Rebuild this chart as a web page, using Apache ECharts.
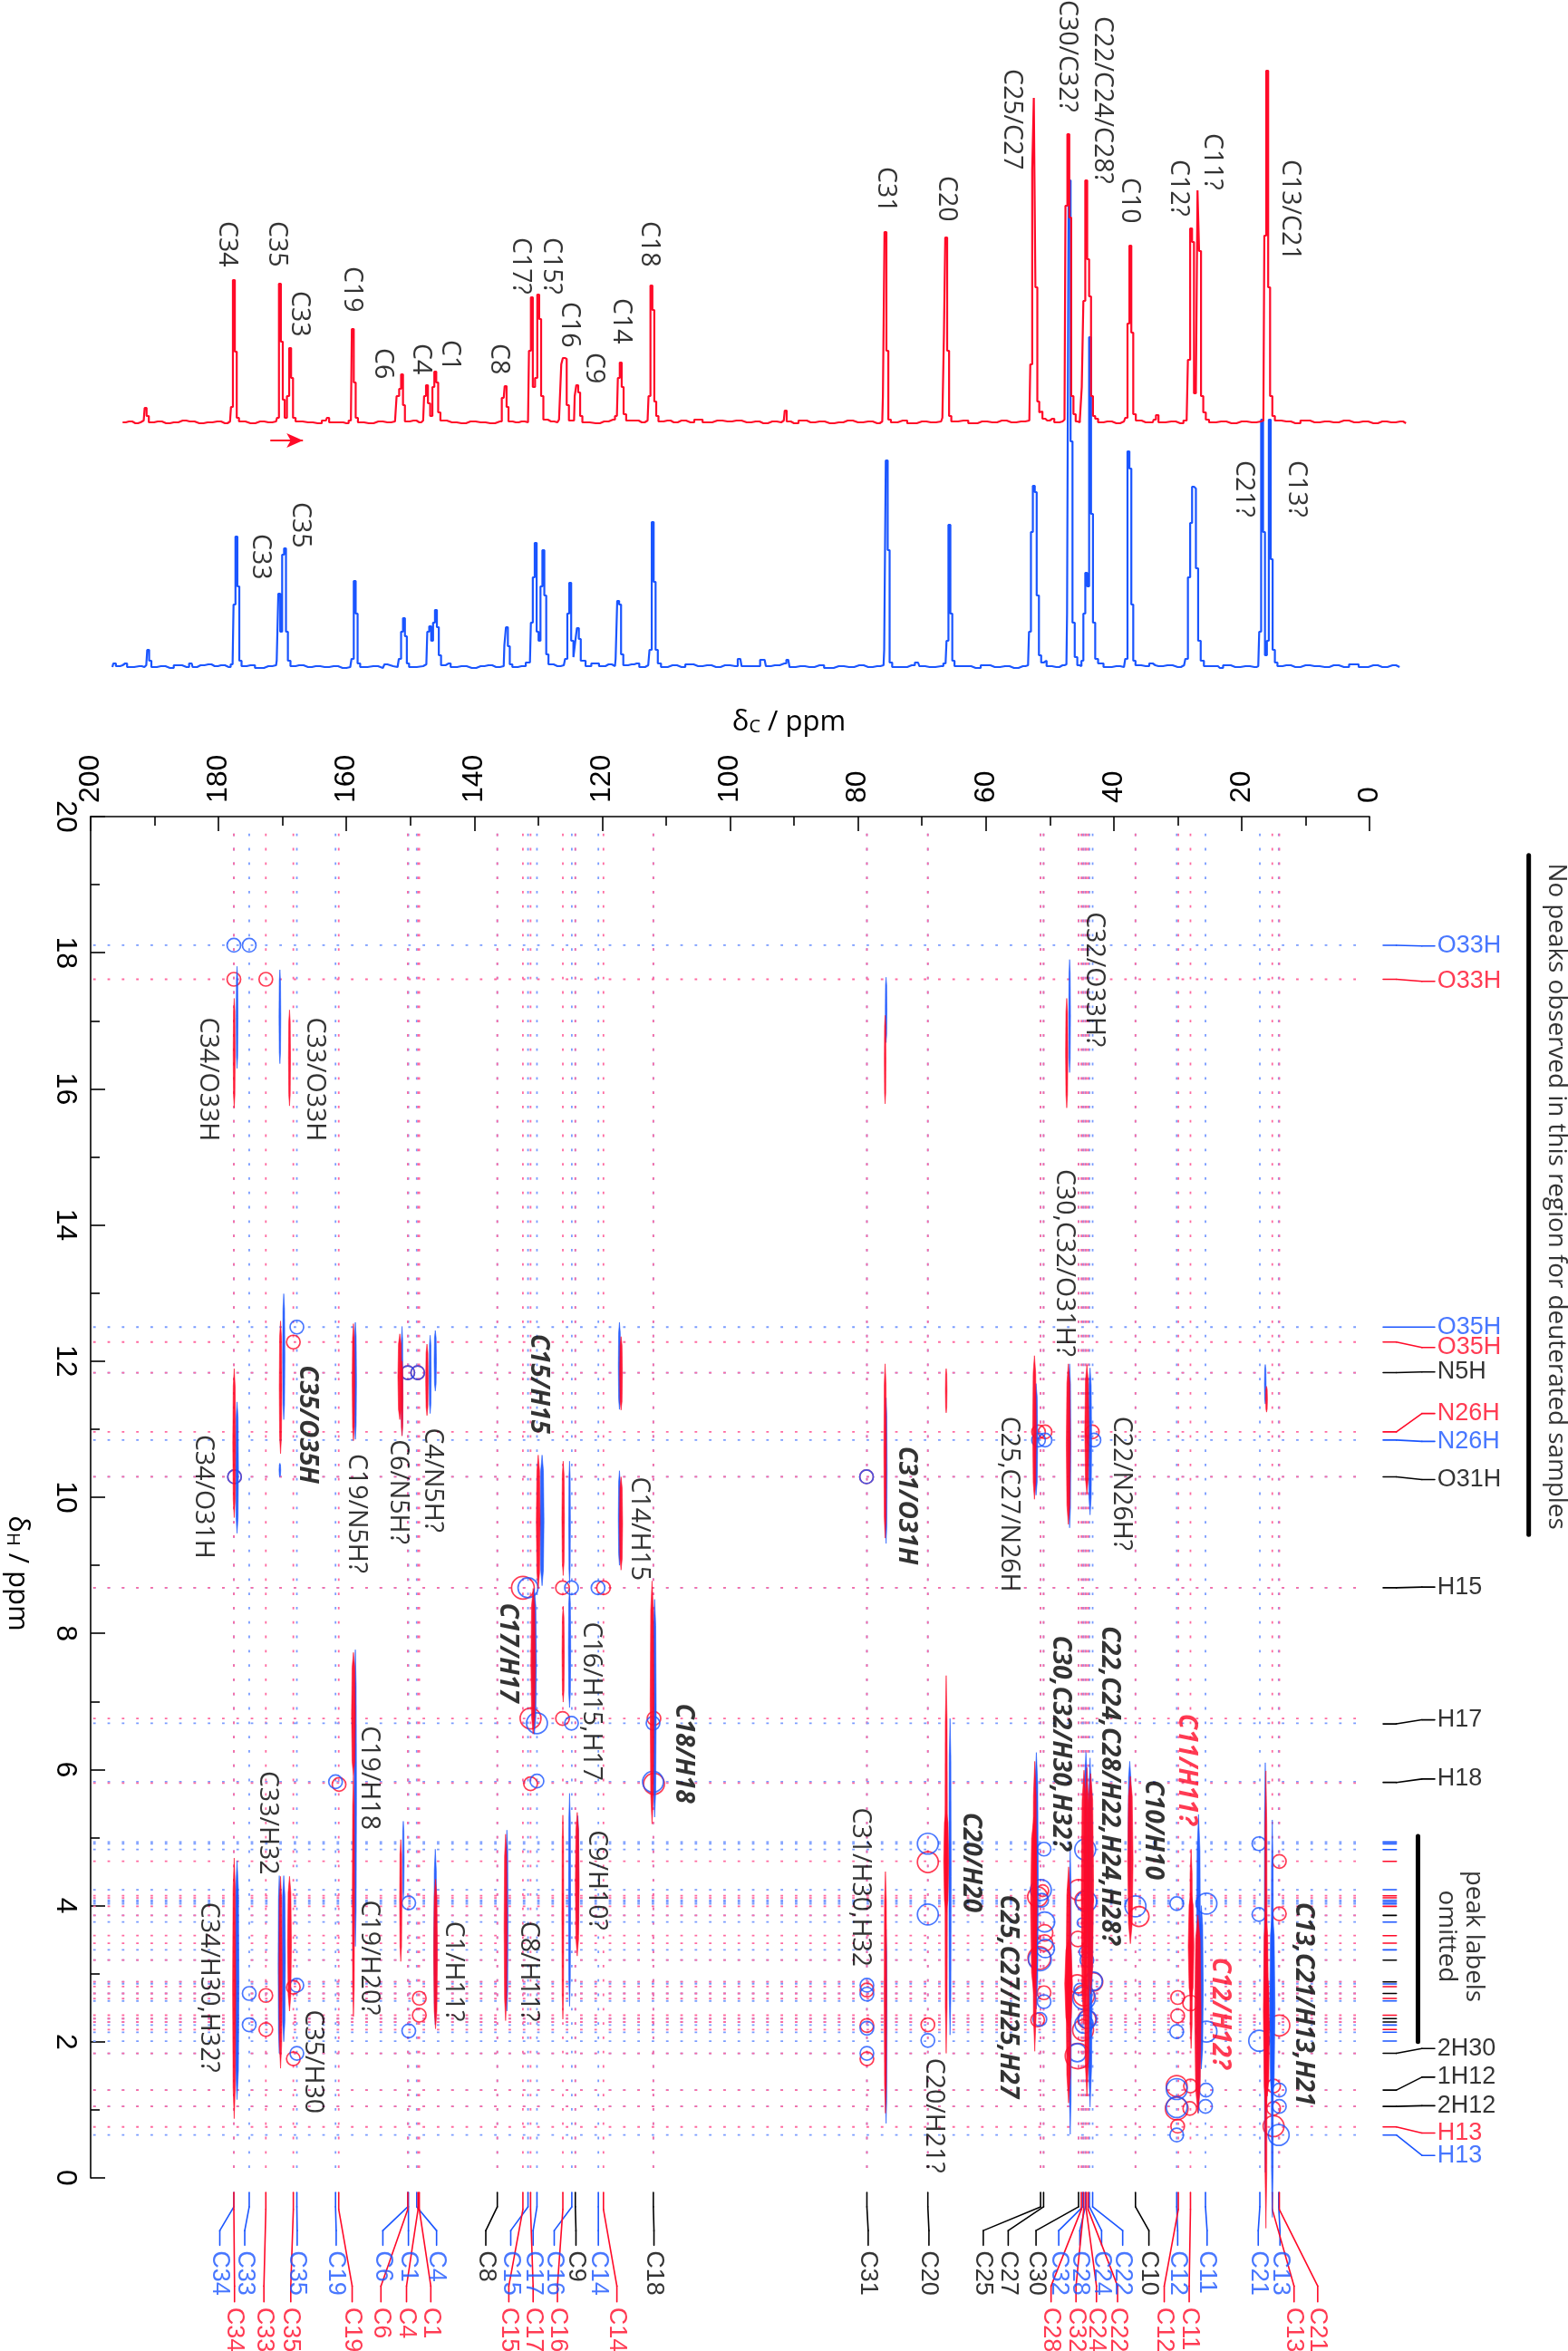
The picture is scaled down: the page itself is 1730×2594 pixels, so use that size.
<!DOCTYPE html>
<html><head><meta charset="utf-8">
<script src="https://cdn.jsdelivr.net/npm/echarts@6/dist/echarts.min.js"></script>
<style>html,body{margin:0;padding:0;background:#fff}#c{width:1730px;height:2594px}</style>
</head><body><div id="c"></div>
<script>
const RED='#ff0a28', BLUE='#1a55ff', BLACK='#000', PINK='#ff6aa0', SKY='#7a9cff';

// 1D 13C spectra: [ppm, intensity]
const redSpectrum=[[195,1],[194,2],[193,0],[192.2,1],[191.7,3],[191.4,17],[191.1,8],[190.7,1],[189.5,2],[188.2,0],[187,1],[185.6,3],[184.5,2],[183,0],[181.7,1],[180.2,2],[179,0],[178.2,2],[177.9,18],[177.6,158],[177.3,79],[177,6],[176.6,2],[175,0],[173.5,2],[172.2,1],[171,2],[170.7,6],[170.4,154],[170.1,90],[169.8,26],[169.5,6],[169.1,30],[168.8,83],[168.5,50],[168.2,6],[167.7,2],[166,1],[164.5,0],[163.2,3],[162.9,6],[162.5,1],[161,1],[160,0],[159.3,3],[159,104],[158.7,45],[158.4,6],[158,1],[156.5,0],[155,2],[153.6,1],[152.4,2],[151.9,30],[151.6,38],[151.3,54],[151,20],[150.7,2],[149.5,3],[148.6,1],[148,3],[147.7,30],[147.4,42],[147.1,22],[146.7,8],[146.4,40],[146.1,57],[145.8,45],[145.5,12],[145.1,3],[143.5,1],[142,0],[140.6,2],[139,1],[137.5,0],[136,2],[135.4,28],[135.1,41],[134.8,18],[134.5,2],[133.5,1],[132.6,2],[131.6,1],[131.3,80],[131,139],[130.7,40],[130.3,50],[130,142],[129.7,115],[129.4,30],[129,4],[128,2],[127,1],[126.5,4],[126.3,65],[126,72],[125.7,71],[125.4,20],[125,3],[124.4,3],[124.2,30],[123.9,42],[123.6,34],[123.3,8],[122.9,1],[121,0],[119.7,2],[118.3,4],[117.7,8],[117.4,50],[117.1,67],[116.8,40],[116.5,10],[116,3],[114.8,3],[113.8,1],[112.9,3],[112.6,30],[112.3,152],[112,125],[111.7,24],[111.4,8],[111,2],[109.8,3],[108.8,1],[107.6,3],[106.2,1],[105,4],[103.6,1],[102,3],[100.4,2],[99,3],[97.4,1],[96,2],[94.8,0],[93.4,2],[92,1],[91.6,3],[91.3,14],[91,2],[90,0],[88.6,3],[87.4,1],[86,2],[84.4,0],[83,1],[81.6,3],[80,1],[78.4,2],[77,0],[76.2,2],[76,30],[75.7,211],[75.4,80],[75.1,4],[74.6,1],[73,3],[71.6,0],[70,2],[68.6,1],[67,2],[66.6,6],[66.5,100],[66.2,205],[65.9,80],[65.6,8],[65.2,2],[63.5,3],[62,0],[60.6,2],[59,1],[57.5,3],[56,1],[54.5,2],[53.2,3],[52.9,65],[52.6,280],[52.4,359],[52.1,150],[51.8,24],[51.5,12],[51.3,13],[51,5],[50.4,3],[49.6,5],[49,1],[48,2],[47.7,4],[47.4,240],[47.1,319],[46.8,227],[46.5,30],[46.1,10],[45.8,2],[45.5,1],[45.1,4],[44.9,40],[44.6,135],[44.3,268],[44,181],[43.7,140],[43.4,30],[43.1,8],[42.7,5],[42.2,1],[41,2],[39.6,0],[38.4,2],[38,6],[37.7,110],[37.4,196],[37.1,100],[36.8,10],[36.3,3],[35,1],[33.9,1],[33.6,4],[33.2,9],[32.8,1],[31,2],[29.6,0],[28.6,3],[28.2,70],[27.9,215],[27.6,200],[27.3,33],[27,40],[26.8,257],[26.5,190],[26.2,30],[25.8,12],[25.4,4],[24.8,1],[23.2,2],[21.6,0],[20,2],[18.4,1],[17,2],[16.6,3],[16.3,207],[16,389],[15.7,150],[15.4,30],[15,8],[14.6,3],[13,2],[11.6,0],[10,3],[8.6,1],[7,2],[5.6,1],[4,3],[2.4,1],[1,2],[-0.6,0],[-2,2],[-3.4,1],[-4.8,2],[-5.7,0]];
const blueSpectrum=[[196.6,1],[196.3,5],[195.8,2],[195,3],[194.6,5],[194,1],[192.4,2],[191.6,1],[191.3,3],[191,20],[190.7,8],[190.3,1],[189,2],[187.6,0],[186.4,3],[185,1],[184.2,5],[183.9,1],[182.8,3],[181.6,4],[180.6,2],[179.6,3],[178.4,1],[177.8,4],[177.5,70],[177.2,145],[176.9,90],[176.6,8],[176.2,2],[175,3],[173.6,0],[172.2,2],[171,3],[170.8,8],[170.5,82],[170.2,40],[169.9,125],[169.6,132],[169.3,40],[169,8],[168.5,2],[167.4,3],[166,1],[164.8,2],[163.4,1],[162,2],[160.6,0],[159.4,1],[159,10],[158.7,96],[158.4,60],[158.1,5],[157.6,1],[155.8,2],[154.3,0],[153.8,4],[153.4,2],[152,1],[151.6,10],[151.3,40],[151,55],[150.7,35],[150.4,5],[150,1],[148,2],[147.5,4],[147.2,40],[146.9,46],[146.6,30],[146.3,50],[146,64],[145.7,45],[145.4,14],[145,3],[144,5],[143.4,1],[142,2],[140.4,0],[139,2],[137.8,3],[136.6,1],[135.4,2],[135.2,25],[134.9,45],[134.6,24],[134.3,4],[133.8,1],[132.6,2],[131.3,6],[131,50],[130.7,100],[130.4,138],[130.1,40],[129.8,30],[129.5,90],[129.2,130],[128.9,80],[128.6,15],[128.2,4],[127,2],[126,3],[125.6,10],[125.3,60],[125,94],[124.7,30],[124.3,12],[124.1,30],[123.8,44],[123.5,32],[123.2,8],[122.8,8],[122.4,2],[121,5],[120,2],[119,4],[118,2],[117.8,10],[117.5,74],[117.2,70],[116.9,15],[116.5,3],[115.4,4],[114.6,5],[113.8,1],[112.8,3],[112.4,20],[112.1,161],[111.8,95],[111.5,20],[111.1,5],[110.5,1],[109,3],[107.6,1],[106.4,4],[105,2],[103.6,3],[102.2,1],[100.8,3],[99.2,2],[98.4,10],[98,2],[96,2],[94.6,9],[94.2,2],[93,3],[91.5,5],[90.9,9],[90.5,1],[89,2],[87.6,1],[86,3],[84.6,0],[83,2],[81.4,1],[79.8,3],[78.4,1],[77,2],[76,3],[75.8,20],[75.5,229],[75.2,130],[74.9,6],[74.4,1],[73,1],[71.6,3],[70.6,6],[70.2,2],[68.8,1],[67,2],[66.3,5],[66,30],[65.7,158],[65.4,60],[65.1,8],[64.7,2],[63,2],[61.6,0],[60,3],[58.6,1],[57,2],[55.6,0],[54.2,2],[53.4,3],[53.1,40],[52.8,150],[52.5,201],[52.2,194],[51.9,80],[51.5,14],[51.2,6],[50.7,8],[50.3,2],[49,1],[48,3],[47.4,4],[47.2,60],[46.9,538],[46.6,250],[46.3,50],[45.9,12],[45.5,3],[45.2,2],[44.9,8],[44.6,60],[44.3,105],[44,90],[43.7,365],[43.4,170],[43.1,50],[42.7,10],[42.2,5],[41,1],[39.6,2],[38.4,1],[38,10],[37.7,239],[37.4,220],[37.1,70],[36.8,8],[36.4,3],[35,2],[33.9,5],[33.5,3],[33,2],[31.6,3],[30,1],[29,3],[28.6,10],[28.2,100],[27.9,160],[27.6,200],[27.3,198],[27,110],[26.6,30],[26.2,8],[25.6,2],[24,2],[23.4,0],[22.4,3],[21,1],[19.4,2],[18,1],[17.4,2],[17.1,40],[16.8,274],[16.5,150],[16.2,14],[15.9,30],[15.6,274],[15.3,120],[15,20],[14.6,6],[14.2,2],[13,3],[11.6,1],[10,3],[8.6,2],[7,1],[5.6,3],[4,1],[2.4,4],[1,1],[-0.6,3],[-2,1],[-3.6,3],[-4.7,1]];

// 2D contours: [13C ppm, 1H high, 1H low, half width ppm]
const redContours=[[177.55,17.33,15.72,.16],[168.9,17.16,15.75,.16],[75.75,17.08,15.78,.1],[47.35,17.33,15.72,.18],[170.3,12.59,10.64,.2],[158.9,12.55,10.83,.2],[151.65,12.4,11.14,.3],[151.3,12.0,10.9,.15],[147.4,12.25,11.2,.2],[117.05,12.36,11.28,.22],[177.55,11.89,9.7,.22],[130,10.62,8.66,.3],[126.1,10.53,8.85,.2],[117.05,10.3,8.93,.25],[75.75,11.96,9.4,.2],[66.2,11.89,11.24,.1],[52.4,12.08,9.97,.28],[47.1,11.96,9.6,.32],[44.2,11.94,10.05,.32],[16.1,11.63,11.25,.14],[130.8,8.66,6.52,.35],[126.1,8.4,6.99,.18],[112.2,8.77,5.2,.3],[158.9,7.72,5.9,.3],[158.9,5.9,2.37,.18],[126.15,5.33,2.33,.15],[123.9,5.37,3.26,.3],[135.1,5.05,2.31,.24],[151.5,4.97,3.18,.18],[146.06,4.39,2.19,.3],[177.55,4.7,.87,.25],[170.3,4.43,1.61,.25],[168.9,4.43,2.45,.3],[75.7,4.5,.95,.2],[66.2,7.38,1.83,.2],[66.2,5.4,3.9,.4],[52.35,6.12,1.86,.3],[52.5,5.3,2.7,.5],[47.06,4.57,1.1,.4],[47.06,3.5,2.2,.6],[44.65,5.99,2.26,.42],[44.2,6.03,1.2,.42],[43.6,5.94,2.7,.45],[37.4,5.9,3.44,.42],[27.9,4.83,1.9,.22],[27.9,4.2,2.6,.45],[26.84,3.86,.95,.5],[16.2,5.98,-.74,.2],[16.2,3.9,1.0,.4],[16.0,3.0,1.2,.35]];
const blueContours=[[177.1,17.8,16.3,.14],[170.4,17.75,16.37,.14],[75.6,17.64,16.68,.08],[46.9,17.9,16.24,.14],[169.8,12.99,11.14,.18],[170.4,10.5,10.3,.04],[158.6,12.57,10.85,.18],[151.3,12.51,10.91,.12],[146.9,12.38,11.23,.16],[146.1,12.45,11.56,.18],[117.3,12.57,11.29,.18],[177.1,11.4,9.47,.22],[129.4,10.62,8.7,.3],[125.1,10.53,8.73,.12],[117.3,10.39,9.0,.18],[75.6,11.46,9.32,.16],[52.15,11.67,10.03,.26],[46.9,11.96,9.55,.2],[43.7,11.9,9.74,.25],[16.3,11.95,11.37,.08],[130.6,8.66,6.52,.32],[125.1,8.66,6.91,.18],[111.8,8.5,5.3,.25],[158.6,7.76,3.4,.18],[125.1,5.65,2.52,.16],[123.8,5.32,3.57,.14],[134.9,5.11,2.45,.18],[151.1,5.24,4.1,.1],[146.1,4.83,2.25,.22],[177.1,4.66,1.15,.3],[170.5,4.44,1.83,.18],[169.8,4.44,2.0,.26],[75.6,3.65,.8,.14],[65.6,6.75,2.1,.18],[52.1,6.25,2.48,.3],[46.8,4.83,.64,.18],[44.35,6.25,3.15,.3],[43.7,6.17,1.04,.36],[37.5,6.12,4.2,.25],[26.74,5.34,.95,.32],[26.3,4.0,1.6,.3],[16.3,6.1,.08,.16],[15.2,5.26,-.58,.18],[15.2,3.9,1.1,.42]];

// calculated shifts: [13C ppm, 1H ppm, marker diameter]
const redCircles=[[177.6,17.61,15],[172.6,17.61,15],[168.3,12.28,15],[150.4,11.83,15],[148.85,11.83,15],[177.5,10.3,15],[78.66,10.3,15],[51.76,10.96,15],[50.74,10.96,15],[43.35,10.96,15],[132.4,8.67,25],[126.2,8.67,15],[119.8,8.67,15],[131.2,6.75,23],[126.2,6.75,15],[111.9,6.75,15],[131.2,5.79,15],[111.9,5.79,23],[161.15,5.78,15],[148.6,2.64,15],[148.6,2.39,15],[172.6,2.68,15],[172.6,2.18,15],[168.3,2.8,15],[168.3,1.75,15],[78.6,2.76,15],[78.6,2.24,15],[78.6,1.75,15],[69.07,4.64,23],[69.07,2.25,15],[51.9,4.13,22],[51.1,4.22,13],[50.8,3.6,18],[50.8,3.45,18],[51.64,3.23,25],[50.9,2.72,15],[51.9,2.32,15],[45.5,4.23,23],[44.65,4.08,20],[45.6,3.51,17],[43.14,2.88,20],[45.7,2.85,20],[44.65,2.68,23],[44.2,2.33,20],[44.8,2.17,23],[45.6,1.79,28],[36.05,3.84,22],[30,2.65,15],[30,2.38,15],[28,2.57,17],[30.15,1.35,23],[30.15,1.02,25],[30,.76,15],[28,1.35,15],[28.1,1.02,15],[14.1,4.65,15],[14.1,3.88,15],[14.1,2.24,23],[15,1.35,15],[15,1.02,15],[15,.76,23]];
const blueCircles=[[177.6,18.11,15],[175.2,18.11,15],[167.75,12.5,15],[150.4,11.83,15],[148.85,11.83,15],[177.5,10.3,15],[78.66,10.3,15],[51.76,10.84,15],[50.74,10.84,15],[43.1,10.84,15],[131.6,8.67,22],[124.8,8.67,15],[120.65,8.67,15],[130.2,6.68,23],[124.8,6.68,15],[112.05,6.68,15],[130.2,5.83,15],[112.05,5.82,23],[161.7,5.82,15],[150.25,4.04,15],[150.25,2.16,15],[175.2,2.71,15],[175.2,2.25,15],[167.75,2.83,15],[167.75,1.83,15],[78.6,2.83,15],[78.6,2.7,15],[78.6,2.2,15],[78.6,1.83,15],[69.07,4.91,23],[69.07,3.87,23],[69.07,2.02,15],[50.9,4.83,15],[51.4,4.23,23],[51.26,4.08,15],[50.8,3.76,22],[50.7,3.37,20],[51.55,3.21,25],[50.9,2.59,15],[51.55,2.33,15],[44.46,4.825,23],[44.3,4.06,23],[45,3.75,10],[44.46,3.32,13],[44.2,3.2,15],[43.2,2.89,20],[45.3,2.77,13],[44.65,2.64,25],[44.1,2.33,20],[44.65,2.26,20],[45.7,1.84,20],[36.6,3.99,23],[30.15,4.03,15],[25.5,4.03,23],[30.15,2.15,15],[25.5,2.15,23],[30.15,1.305,23],[30.15,1.04,23],[30.15,.63,15],[25.56,1.29,15],[25.65,1.05,15],[17.3,4.91,15],[17.3,3.87,15],[17.25,2.015,23],[14.1,1.29,15],[14.1,1.05,15],[14.2,.63,23]];

// bottom assignments: [column ppm, label ppm, text]
const blueColumns=[[177.6,179.8,'C34'],[175.2,175.9,'C33'],[167.75,167.7,'C35'],[161.7,161.6,'C19'],[150.4,154.3,'C6'],[150.3,150.3,'C1'],[149,145.9,'C4'],[131.6,134.3,'C15'],[130.2,130.8,'C17'],[124.75,127.5,'C16'],[120.6,120.6,'C14'],[44.84,48.6,'C32'],[44.44,45.3,'C28'],[43.8,41.9,'C24'],[43.3,38.6,'C22'],[30.15,30,'C12'],[25.65,25.4,'C11'],[17.15,17.4,'C21'],[14.2,14,'C13']];
const blackColumns=[[136.4,138.2,'C8'],[124.2,124.1,'C9'],[112,111.9,'C18'],[78.6,78.4,'C31'],[69.07,68.9,'C20'],[51.44,60.4,'C25'],[50.97,56.5,'C27'],[45.5,52.15,'C30'],[36.6,34.5,'C10']];
const redColumns=[[177.6,177.5,'C34'],[172.6,172.9,'C33'],[168.3,168.7,'C35'],[161.2,159.1,'C19'],[150.4,154.6,'C6'],[148.8,150.6,'C4'],[148.6,146.8,'C1'],[132.4,134.6,'C15'],[131.2,130.8,'C17'],[126.15,127,'C16'],[119.8,117.7,'C14'],[45.07,49.8,'C28'],[44.7,45.9,'C32'],[44.3,42.7,'C24'],[44,39.4,'C22'],[29.9,32.1,'C12'],[28,28.2,'C11'],[15.2,11.8,'C13'],[14.1,8.1,'C21']];

// proton rows
const redRows=[17.61,12.28,10.96,6.75,5.8,.749];
const blueRows=[18.11,12.5,10.84,6.68,5.82,.63];
const bothRows=[11.83,10.3,8.67,1.83,1.29,1.05];
const omittedRed=[4.651,4.145,4.114,3.99,3.559,3.448,2.81,2.636,2.39,2.18];
const omittedBlue=[4.935,4.909,4.824,4.234,4.078,4.052,4.025,3.759,3.351,2.85,2.6,2.245,2.14,2.01];
const omittedBoth=[3.857,3.2,2.88,2.71,2.34,2.29];

// right-hand proton labels: [text, label H ppm, row H ppm]
const rightBlue=[['O33H',18.1,18.11],['O35H',12.5,12.5],['N26H',10.82,10.84],['H13',.33,.63]];
const rightRed=[['O33H',17.58,17.61],['O35H',12.2,12.28],['N26H',11.23,10.96],['H13',.66,.749]];
const rightBlack=[['N5H',11.84,11.83],['O31H',10.26,10.3],['H15',8.68,8.67],['H17',6.73,6.67],['H18',5.86,5.81],['2H30',1.9,1.83],['1H12',1.48,1.29],['2H12',1.06,1.05]];

// peak assignments in the 2D map: [13C ppm, 1H ppm at text start, text]
const plainLabels=[[181.75,17.05,'C34/O33H'],[165,17.05,'C33/O33H'],[43.1,18.6,'C32/O33H?'],[47.8,14.82,'C30,C32/O31H?'],[182.4,10.92,'C34/O31H'],[158.5,10.64,'C19/N5H?'],[151.95,10.85,'C6/N5H?'],[146.5,11.02,'C4/N5H?'],[114.25,10.3,'C14/H15'],[56.4,11.19,'C25,C27/N26H'],[38.8,11.19,'C22/N26H?'],[121.8,8.17,'C16/H15,H17'],[156.4,6.64,'C19/H18'],[172.3,5.98,'C33/H32'],[156.4,4.08,'C19/H20?'],[120.9,5.11,'C9/H10?'],[181.5,4.05,'C34/H30,H32?'],[143.3,3.77,'C1/H11?'],[131.5,3.77,'C8/H11?'],[165.3,2.47,'C35/H30'],[79.7,5.44,'C31/H30,H32'],[68.1,1.76,'C20/H21?']];
const boldLabels=[[166.1,11.94,'C35/O35H'],[130,12.4,'C15/H15'],[72.4,10.75,'C31/O31H'],[134.86,8.45,'C17/H17'],[107.3,6.97,'C18/H18'],[48.4,7.97,'C30,C32/H30,H32?'],[40.75,8.11,'C22,C24,C28/H22,H24,H28?'],[33.9,5.85,'C10/H10'],[62.4,5.37,'C20/H20'],[56.5,4.16,'C25,C27/H25,H27'],[10.3,4.05,'C13,C21/H13,H21']];
const boldRedLabels=[[28.7,6.82,'C11/H11?'],[23.45,3.24,'C12/H12?']];

// 1D spectrum labels: [ppm, intensity at text start, text]
const redSpectrumLabels=[[178.7,223,'C34'],[170.9,223,'C35'],[167.4,146,'C33'],[159.2,173,'C19'],[154.4,83,'C6'],[148.4,88,'C4'],[143.8,92,'C1'],[136.2,88,'C8'],[132.8,205,'C17?'],[128,205,'C15?'],[125.1,134,'C16'],[121.3,78,'C9'],[117,138,'C14'],[112.7,223,'C18'],[75.7,283,'C31'],[66.2,273,'C20'],[56,391,'C25/C27'],[47.3,467,'C30/C32?'],[41.85,449,'C22/C24/C28?'],[37.5,271,'C10'],[29.9,291,'C12?'],[24.6,320,'C11?'],[12.5,291,'C13/C21']];
const blueSpectrumLabels=[[173.5,148,'C33'],[167.2,183,'C35'],[19.7,229,'C21?'],[11.5,229,'C13?']];

// notes: [13C ppm, 1H ppm, text]
const notes=[[-29.2,14.42,'No peaks observed in this region for deuterated samples'],[-16.3,3.55,'peak labels'],[-12,3.55,'omitted']];
const noteBars=[[[-7.58,5.02],[-7.58,2.0]],[[-24.9,19.43],[-24.9,9.45]]];

// every polyline is cut into [x1,y1,x2,y2] pieces for the custom series below
const pieces=list=>list.flatMap(s=>s.slice(1).map((q,i)=>[s[i][0],s[i][1],q[0],q[1]]));
const segs=list=>list.flatMap(s=>[...s,[null,null]]);
const colLeaderA=c=>[[c[0],-.215],[c[0],-.425],[c[1],-.774],[c[1],-.99]];
const colLeaderB=c=>[[c[0],-.215],[c[0],-.464],[c[1],-1.59],[c[1],-1.82]];
const rowLeader=r=>r[1]===r[2]?[[-2.13,r[2]],[-10.2,r[2]]]:[[-2.13,r[2]],[-4.2,r[2]],[-8.2,r[1]],[-10.2,r[1]]];
const tick=h=>[[-2.13,h],[-4.2,h]];

function dotted(name,data,color){return {type:'line',name,xAxisIndex:0,yAxisIndex:0,data,showSymbol:false,silent:true,clip:false,animation:false,connectNulls:false,z:1,lineStyle:{color,width:1.8,type:[2.8,13]}};}
function solid(name,list,color,width){return {type:'custom',name,xAxisIndex:0,yAxisIndex:0,data:pieces(list),silent:true,animation:false,clip:false,z:3,encode:{x:[0,2],y:[1,3]},
 renderItem(p,api){const a=api.coord([api.value(0),api.value(1)]),b=api.coord([api.value(2),api.value(3)]);
  return {type:'line',shape:{x1:a[0],y1:a[1],x2:b[0],y2:b[1]},style:{stroke:color,lineWidth:width,lineCap:'round'}};}};}
function circles(name,data,color){return {type:'scatter',name,xAxisIndex:0,yAxisIndex:0,data,clip:false,silent:true,animation:false,symbol:'circle',symbolSize:v=>v[2],z:2,itemStyle:{color:'transparent',borderColor:color,borderWidth:1.7}};}
function spindles(name,data,color,z){return {type:'custom',name,xAxisIndex:0,yAxisIndex:0,data,silent:true,animation:false,clip:false,z,encode:{x:0,y:[1,2]},
 renderItem(p,api){const x=api.value(0),a=api.value(1),b=api.value(2),w=Math.max(api.value(3),.13),m=(a+b)/2,d=a-b;
  const pts=[[x,a],[x-w*.7,a-d*.12],[x-w,m],[x-w*.7,b+d*.12],[x,b],[x+w*.7,b+d*.12],[x+w,m],[x+w*.7,a-d*.12]].map(q=>api.coord(q));
  return {type:'polygon',shape:{points:pts},style:{fill:color,stroke:color,lineWidth:.6,opacity:.93}};}};}
function textLayer(name,items,o){return {type:'scatter',name,xAxisIndex:o.axis||0,yAxisIndex:o.axis||0,clip:false,silent:true,animation:false,symbol:'circle',symbolSize:.01,z:6,itemStyle:{color:'transparent'},
 data:items.map(t=>({name:t[2],value:[t[0],t[1]]})),
 label:{show:true,position:'inside',formatter:'{b}',rotate:o.rotate===undefined?-90:o.rotate,align:o.align||'left',verticalAlign:'middle',color:o.color||BLACK,fontFamily:o.font||'"Liberation Sans"',fontSize:o.size||27,fontWeight:o.weight||'normal',fontStyle:o.style||'normal'}};}
function spectrum(name,data,color,axis,z){return {type:'line',name,xAxisIndex:axis,yAxisIndex:axis,data,step:'middle',showSymbol:false,silent:true,animation:false,clip:false,z,lineStyle:{color,width:2.2}};}

const vLines=cols=>segs(cols.map(c=>[[c[0],19.75],[c[0],0]]));
const hLines=rows=>segs(rows.map(h=>[[199.6,h],[1,h]]));
const hiddenX={type:'value',inverse:true,min:-7,max:200,show:false};
const hiddenY=(min,max)=>({type:'value',min,max,show:false});
const axisLineStyle={show:true,onZero:false,lineStyle:{color:BLACK,width:1.6}};

const option={
 backgroundColor:'#fff',animation:false,
 grid:[{left:100,top:901,width:1411,height:1502,outerBoundsMode:'none'},{left:100,top:0,width:1460.4,height:500,outerBoundsMode:'none'},{left:100,top:0,width:1460.4,height:750,outerBoundsMode:'none'}],
 xAxis:[{type:'value',gridIndex:0,inverse:true,min:0,max:200,interval:20,position:'top',
   name:'{t|δ}{s|C}{t| / ppm}',nameLocation:'middle',nameGap:88,nameRotate:0,
   nameTextStyle:{padding:[0,0,0,130],rich:{t:{fontSize:31,fontFamily:'"Open Sans"',color:BLACK},s:{fontSize:20,fontFamily:'"Open Sans"',color:BLACK,padding:[10,0,0,0]}}},
   axisLine:axisLineStyle,axisTick:{show:true,inside:true,length:16,lineStyle:{color:BLACK,width:1.6}},
   minorTick:{show:true,splitNumber:2,length:10,lineStyle:{color:BLACK,width:1.6}},splitLine:{show:false},minorSplitLine:{show:false},
   axisLabel:{show:true,rotate:-90,margin:15,fontSize:32,fontFamily:'"Liberation Sans"',color:BLACK,formatter:v=>String(v)}},
  {...hiddenX,gridIndex:1},{...hiddenX,gridIndex:2}],
 yAxis:[{type:'value',gridIndex:0,min:0,max:20,interval:2,position:'left',
   name:'{t|δ}{s|H}{t| / ppm}',nameLocation:'middle',nameGap:66,nameRotate:-90,
   nameTextStyle:{padding:[0,0,0,168],rich:{t:{fontSize:31,fontFamily:'"Open Sans"',color:BLACK},s:{fontSize:20,fontFamily:'"Open Sans"',color:BLACK,padding:[10,0,0,0]}}},
   axisLine:axisLineStyle,axisTick:{show:true,inside:true,length:16,lineStyle:{color:BLACK,width:1.6}},
   minorTick:{show:true,splitNumber:2,length:10,lineStyle:{color:BLACK,width:1.6}},splitLine:{show:false},minorSplitLine:{show:false},
   axisLabel:{show:true,rotate:-90,margin:12,fontSize:32,fontFamily:'"Liberation Sans"',color:BLACK}},
  {...hiddenY(-33,467),gridIndex:1},{...hiddenY(-13,737),gridIndex:2}],
 series:[
  spectrum('blue 13C',blueSpectrum,BLUE,2,2),
  {...spectrum('red 13C',redSpectrum,RED,1,3),markLine:{silent:true,animation:false,symbolSize:[12,18],lineStyle:{color:RED,width:2,type:'solid'},label:{show:false},data:[[{coord:[171.9,-19],symbol:'none'},{coord:[166.8,-19],symbol:'arrow'}]]}},
  textLayer('red spectrum labels',redSpectrumLabels,{axis:1,font:'"Open Sans"',size:28.5}),
  textLayer('blue spectrum labels',blueSpectrumLabels,{axis:2,font:'"Open Sans"',size:28.5}),
  dotted('blue columns',vLines([...blueColumns,...blackColumns]),SKY),
  dotted('red columns',vLines([...redColumns,...blackColumns]),PINK),
  dotted('blue rows',hLines([...blueRows,...bothRows,...omittedBlue,...omittedBoth]),SKY),
  dotted('red rows',hLines([...redRows,...bothRows,...omittedRed,...omittedBoth]),PINK),
  circles('red calc',redCircles,RED),circles('blue calc',blueCircles,BLUE),
  spindles('blue contours',blueContours,BLUE,4),spindles('red contours',redContours,RED,5),
  solid('blue leaders',[...blueColumns.map(colLeaderA),...rightBlue.map(rowLeader),...omittedBlue.map(tick)],BLUE,1.6),
  solid('red leaders',[...redColumns.map(colLeaderB),...rightRed.map(rowLeader),...omittedRed.map(tick)],RED,1.6),
  solid('black leaders',[...blackColumns.map(colLeaderA),...rightBlack.map(rowLeader),...omittedBoth.map(tick)],BLACK,1.6),
  solid('note bars',noteBars,BLACK,5),
  textLayer('bottom blue',blueColumns.map(c=>[c[1],-1.07,c[2]]),{color:BLUE}),
  textLayer('bottom black',blackColumns.map(c=>[c[1],-1.07,c[2]]),{}),
  textLayer('bottom red',redColumns.map(c=>[c[1],-1.9,c[2]]),{color:RED}),
  textLayer('right blue',rightBlue.map(r=>[-10.6,r[1],r[0]]),{color:BLUE,rotate:0}),
  textLayer('right red',rightRed.map(r=>[-10.6,r[1],r[0]]),{color:RED,rotate:0}),
  textLayer('right black',rightBlack.map(r=>[-10.6,r[1],r[0]]),{rotate:0}),
  textLayer('plain labels',plainLabels,{font:'"Open Sans"',size:28.5}),
  textLayer('bold labels',boldLabels,{font:'"Open Sans"',weight:'bold',style:'italic',size:28}),
  textLayer('bold red labels',boldRedLabels,{font:'"Open Sans"',weight:'bold',style:'italic',color:RED,size:28}),
  textLayer('notes',notes,{font:'"Open Sans"',align:'center',size:27.8})
 ]
};
echarts.init(document.getElementById('c'),null,{renderer:'canvas'}).setOption(option);
</script></body></html>
